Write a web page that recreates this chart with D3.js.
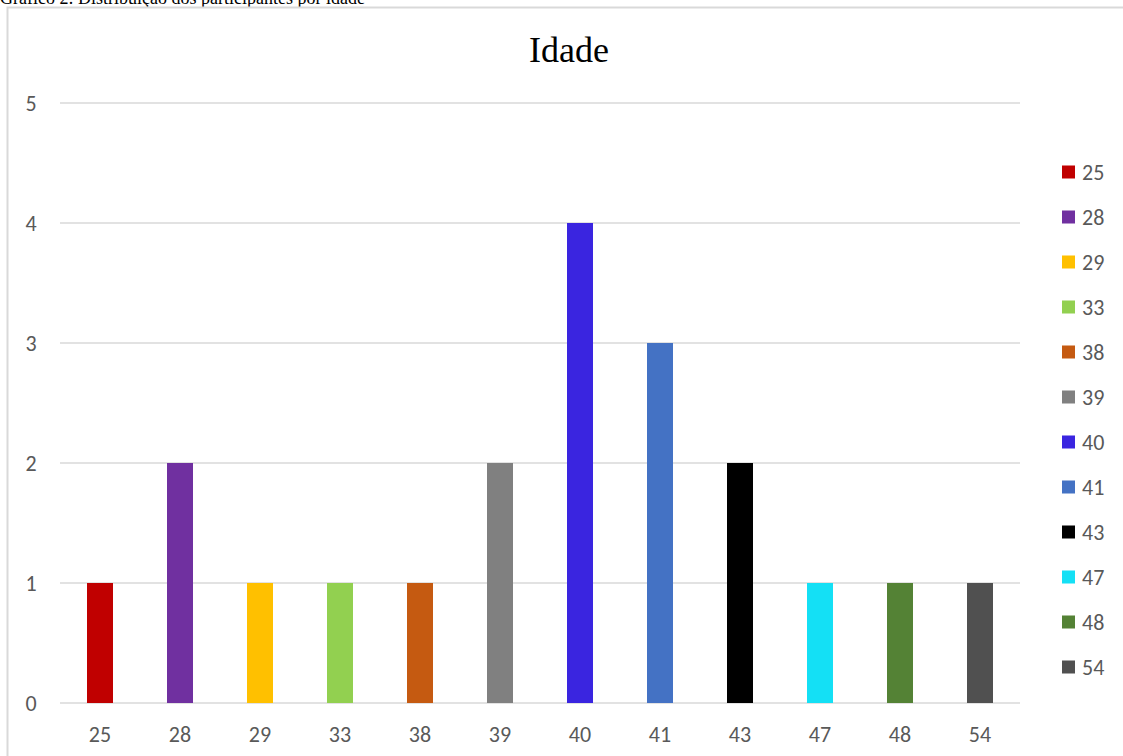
<!DOCTYPE html>
<html><head><meta charset="utf-8">
<script src="https://cdn.jsdelivr.net/npm/d3@7"></script>
<style>html,body{margin:0;padding:0;background:#fff;overflow:hidden}</style>
</head><body>
<svg id="c" width="1123" height="756"></svg>
<script>
const categories = ["25","28","29","33","38","39","40","41","43","47","48","54"];
const values = [1,2,1,1,1,2,4,3,2,1,1,1];
const colors = ["#C00000","#7030A0","#FFC000","#92D050","#C55A11","#808080","#3A25E0","#4472C4","#000000","#14E0F5","#548235","#505050"];
const yTicks = [0,1,2,3,4,5];
const titleText = "Idade";
const captionText = "Gráfico 2: Distribuição dos participantes por idade";

const svg = d3.select("#c");
const labelFont = "Carlito, Calibri, 'Open Sans', sans-serif";
const labelSize = 22;

// caption (cut off at top, as in the reference)
svg.append("text").attr("x", 0).attr("y", 4)
  .attr("font-family", "'Liberation Serif','Times New Roman',serif")
  .attr("font-size", 18).attr("fill", "#000").text(captionText);

// chart frame
svg.append("rect").attr("x", 7.5).attr("y", 7.5).attr("width", 1200).attr("height", 800)
  .attr("fill", "none").attr("stroke", "#d9d9d9").attr("stroke-width", 2);

const x = d3.scaleBand().domain(categories).range([60, 1020]).paddingInner(0.675).paddingOuter(0.3375);
const y = d3.scaleLinear().domain([0, 5]).range([703, 103]);

// gridlines
svg.append("g").selectAll("line").data(yTicks).join("line")
  .attr("x1", 60).attr("x2", 1020)
  .attr("y1", d => y(d)).attr("y2", d => y(d))
  .attr("stroke", "#d9d9d9").attr("stroke-width", 1.5);

// y labels
svg.append("g").selectAll("text").data(yTicks).join("text")
  .attr("x", 31).attr("y", d => y(d)).attr("dy", "0.35em")
  .attr("text-anchor", "middle").attr("font-family", labelFont)
  .attr("font-size", labelSize).attr("fill", "#595959").text(d => d);

// bars
svg.append("g").selectAll("rect").data(categories).join("rect")
  .attr("x", d => x(d) + x.bandwidth()/2 - 13)
  .attr("width", 26)
  .attr("y", (d,i) => y(values[i]))
  .attr("height", (d,i) => y(0) - y(values[i]))
  .attr("fill", (d,i) => colors[i]);

// x labels
svg.append("g").selectAll("text").data(categories).join("text")
  .attr("x", d => x(d) + x.bandwidth()/2).attr("y", 734)
  .attr("dy", "0.35em").attr("text-anchor", "middle")
  .attr("font-family", labelFont).attr("font-size", labelSize).attr("fill", "#595959").text(d => d);

// title
svg.append("text").attr("x", 569).attr("y", 62).attr("text-anchor", "middle")
  .attr("font-family", "'Liberation Serif','Times New Roman',serif")
  .attr("font-size", 36).attr("fill", "#000").text(titleText);

// legend
const leg = svg.append("g").selectAll("g").data(categories).join("g")
  .attr("transform", (d,i) => `translate(1062, ${172 + i*45})`);
leg.append("rect").attr("x", 0).attr("y", -6.5).attr("width", 13).attr("height", 13)
  .attr("fill", (d,i) => colors[i]);
leg.append("text").attr("x", 20).attr("y", 0).attr("dy", "0.35em")
  .attr("font-family", labelFont).attr("font-size", labelSize).attr("fill", "#595959").text(d => d);
</script>
</body></html>
